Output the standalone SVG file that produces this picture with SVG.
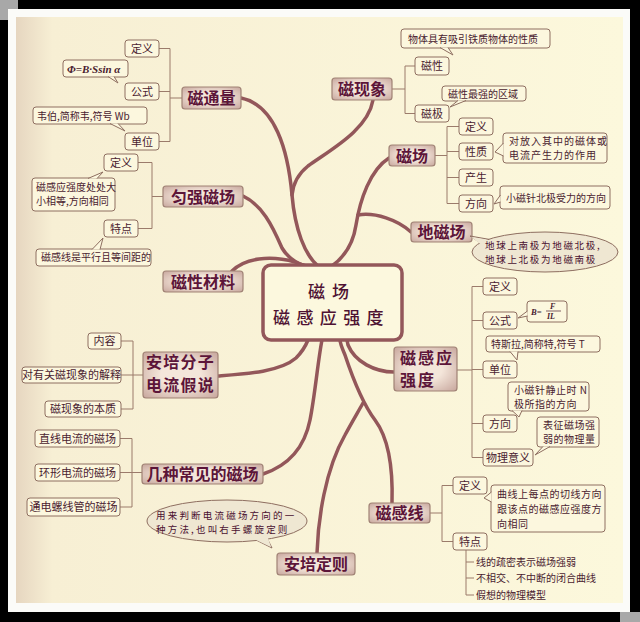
<svg xmlns="http://www.w3.org/2000/svg" width="640" height="622" viewBox="0 0 640 622">
<defs>
<linearGradient id="paper" x1="0" x2="1" y1="0" y2="0"><stop offset="0" stop-color="#e6d6c0"/><stop offset="0.06" stop-color="#f7efd4"/><stop offset="1" stop-color="#fcf8dc"/></linearGradient>
<radialGradient id="mn" cx="0.5" cy="0.5" r="0.75"><stop offset="0.35" stop-color="#f4e6da"/><stop offset="1" stop-color="#c29f96"/></radialGradient>
<style>
.m{font-family:"Noto Sans CJK SC",sans-serif;font-weight:bold;font-size:16px;fill:#5c1539;text-anchor:middle}
.mb{fill:url(#mn);stroke:#a08275;stroke-width:1.2}
.sb{fill:#fcf7de;stroke:#8e6e60;stroke-width:1}
.s{font-family:"Noto Sans CJK SC",sans-serif;font-size:11px;fill:#4a1c30;text-anchor:middle}
.c{font-family:"Noto Sans CJK SC",sans-serif;font-size:10px;fill:#4a1c30}
.br{fill:none;stroke:#9b7b6b;stroke-width:1}
.tr{fill:none;stroke:#93575a;stroke-width:3.5;stroke-linecap:round}
.tail{fill:#fcf7de;stroke:#8e6e60;stroke-width:1}
.el{fill:#efe7d2;stroke:#8e6e60;stroke-width:1}
.k{font-family:"Noto Sans CJK SC",sans-serif;font-size:9.5px;fill:#4a1030}
.f{font-family:"Liberation Serif",serif;font-style:italic;font-weight:bold;fill:#4a1c30}
.ct{font-family:"Noto Sans CJK SC",sans-serif;font-size:17px;font-weight:500;fill:#4e1232}
</style>
</defs>
<rect width="640" height="622" fill="#000"/>
<rect x="0" y="0" width="18" height="20" fill="#a8a8a8"/>
<rect x="620" y="612" width="20" height="10" fill="#a8a8a8"/>
<rect x="8" y="9" width="622" height="603" fill="#fbfbf8"/>
<rect x="16" y="17" width="607" height="586" fill="url(#paper)"/>

<g id="connectors">
<path class="tr" d="M241,98 C275,105 288,150 292,195 C295,230 305,255 318,266"/>
<path class="tr" d="M373,100 C368,130 330,150 308,166 C298,174 293,185 292,195"/>
<path class="tr" d="M243,196 C262,205 272,225 282,248 C288,258 296,263 305,266"/>
<path class="tr" d="M232,271 C245,258 270,255 295,262 C300,264 303,265 306,266"/>
<path class="tr" d="M389,158 C370,170 360,200 356,225 C353,245 343,258 332,266"/>
<path class="tr" d="M411,232 C398,220 375,212 358,215"/>
<path class="tr" d="M218,376 C245,374 280,372 296,358 C303,351 306,345 308,340"/>
<path class="tr" d="M263,474 C290,465 305,445 310,420 C315,395 318,360 322,340"/>
<path class="tr" d="M317,553 C318,520 325,470 345,435 C352,422 358,412 363,403"/>
<path class="tr" d="M392,503 C393,470 390,440 375,420 C360,400 350,370 345,355 C342,348 340,343 340,340"/>
<path class="tr" d="M394,372 C375,372 355,362 348,345 L347,340"/>
<path class="br" d="M159,48.5 H170 V141.5 H159 M159,91.5 H170 M170,98 H182"/>
<path class="br" d="M415,66 H405 V113.5 H415 M392,89 H405"/>
<path class="br" d="M459,126.5 H447 V203.5 H459 M447,151.5 H459 M447,177.5 H459 M435,155.5 H447"/>
<path class="br" d="M138,162.5 H152 V228.5 H138 M152,196.5 H163"/>
<path class="br" d="M121,341 H133 V409 H121 M121,375 H143"/>
<path class="br" d="M120,438.5 H132 V507 H120 M120,472.5 H142"/>
<path class="br" d="M483,286.5 H472 V457.5 H483 M472,320.5 H483 M472,369.5 H483 M472,423.5 H483 M457,370 H472"/>
<path class="br" d="M453,485.5 H442 V541.5 H453 M430,513 H442"/>
<path class="br" d="M466,550 V595 H474 M466,562 H474 M466,578 H474"/>
</g>

<g id="center">
<rect x="263" y="265" width="139" height="75" rx="8" fill="#fcf8de" stroke="#93575a" stroke-width="3.5"/>
<text class="ct" x="308" y="298" letter-spacing="7">磁场</text>
<text class="ct" x="273" y="324" letter-spacing="6.4">磁感应强度</text>
</g>

<g id="citongliang">
<rect class="mb" x="182" y="87" width="59" height="22" rx="3"/>
<text class="m" x="211.5" y="104">磁通量</text>
<rect class="sb" x="125" y="40" width="34" height="17" rx="3"/><text class="s" x="142" y="52.7">定义</text>
<rect class="sb" x="63" y="60" width="65" height="17" rx="3"/>
<path class="tail" d="M108,76.5 L118,83 L114,76.5"/>
<text class="f" x="67" y="72.5" font-size="11">Φ=B·Ssin α</text>
<rect class="sb" x="125" y="83" width="34" height="17" rx="3"/><text class="s" x="142" y="95.7">公式</text>
<rect class="sb" x="33" y="107" width="114" height="17" rx="3"/>
<path class="tail" d="M110,123.5 L125,131 L118,123.5"/>
<text class="c" x="37" y="119.5" font-size="10.5">韦伯,简称韦,符号 Wb</text>
<rect class="sb" x="125" y="133" width="34" height="17" rx="3"/><text class="s" x="142" y="145.7">单位</text>
</g>

<g id="cixianxiang">
<rect class="mb" x="332" y="78" width="60" height="22" rx="3"/>
<text class="m" x="362" y="95">磁现象</text>
<rect class="sb" x="401" y="29" width="149" height="19" rx="3"/>
<path class="tail" d="M440,47.5 L453,55 L448,47.5"/>
<text class="c" x="408" y="42.5" font-size="10.5">物体具有吸引铁质物体的性质</text>
<rect class="sb" x="415" y="57" width="34" height="18" rx="3"/><text class="s" x="432" y="70.2">磁性</text>
<rect class="sb" x="442" y="86" width="84" height="15" rx="3"/>
<path class="tail" d="M458,100.5 L450,107 L466,100.5"/>
<text class="c" x="448" y="97.5">磁性最强的区域</text>
<rect class="sb" x="415" y="105" width="34" height="17" rx="3"/><text class="s" x="432" y="117.7">磁极</text>
</g>

<g id="cichang">
<rect class="mb" x="389" y="145" width="46" height="21" rx="3"/>
<text class="m" x="412" y="161.5">磁场</text>
<rect class="sb" x="459" y="118" width="34" height="17" rx="3"/><text class="s" x="476" y="130.7">定义</text>
<rect class="sb" x="459" y="143" width="34" height="17" rx="3"/><text class="s" x="476" y="155.7">性质</text>
<rect class="sb" x="503" y="133" width="104" height="30" rx="3"/>
<path class="tail" d="M503.5,143 L495,152 L503.5,156"/>
<text class="c" x="509" y="145" font-size="9.5" letter-spacing="1">对放入其中的磁体或</text>
<text class="c" x="509" y="159" font-size="9.5" letter-spacing="1">电流产生力的作用</text>
<rect class="sb" x="459" y="169" width="34" height="17" rx="3"/><text class="s" x="476" y="181.7">产生</text>
<rect class="sb" x="459" y="195" width="34" height="17" rx="3"/><text class="s" x="476" y="207.7">方向</text>
<rect class="sb" x="500" y="186" width="110" height="23" rx="3"/>
<path class="tail" d="M500.5,195 L494,204 L500.5,202"/>
<text class="c" x="506" y="201.5">小磁针北极受力的方向</text>
</g>

<g id="dicichang">
<rect class="mb" x="411" y="222" width="61" height="20" rx="3"/>
<text class="m" x="441.5" y="238">地磁场</text>
<path class="el" d="M482,244 L470,236 L490,239.5"/>
<ellipse class="el" cx="545" cy="252" rx="73" ry="20"/>
<path d="M481,244.5 L471,237 L491,240.5 Z" fill="#efe7d2"/>
<text class="k" x="485" y="248.5" letter-spacing="1.7">地球上南极为地磁北极,</text>
<text class="k" x="485" y="262.5" letter-spacing="1.7">地球上北极为地磁南极</text>
</g>

<g id="yunqiang">
<rect class="mb" x="163" y="186" width="80" height="21" rx="3"/>
<text class="m" x="203" y="202.5">匀强磁场</text>
<rect class="sb" x="104" y="154" width="34" height="17" rx="3"/><text class="s" x="121" y="166.7">定义</text>
<rect class="sb" x="32" y="178" width="83" height="33" rx="3"/>
<path class="tail" d="M88,178.5 L103,172 L97,178.5"/>
<text class="c" x="36" y="191" font-size="9.5">磁感应强度处处大</text>
<text class="c" x="36" y="205" font-size="9.5">小相等,方向相同</text>
<rect class="sb" x="104" y="220" width="34" height="17" rx="3"/><text class="s" x="121" y="232.7">特点</text>
<rect class="sb" x="36" y="249" width="115" height="17" rx="3"/>
<path class="tail" d="M92,249.5 L103,238 L100,249.5"/>
<text class="c" x="41" y="261" font-size="9.8">磁感线是平行且等间距的</text>
</g>

<g id="cixingcailiao">
<rect class="mb" x="163" y="271" width="80" height="21" rx="3"/>
<text class="m" x="203" y="287.5">磁性材料</text>
</g>

<g id="anpeifenzi">
<rect class="mb" x="143" y="352" width="75" height="46" rx="3"/>
<text class="m" x="180.5" y="368" font-size="13.5" letter-spacing="1.2">安培分子</text>
<text class="m" x="180.5" y="390.5" font-size="13.5" letter-spacing="1.2">电流假说</text>
<rect class="sb" x="88" y="333" width="33" height="16" rx="3"/><text class="s" x="104.5" y="345.2">内容</text>
<rect class="sb" x="22" y="367" width="99" height="16" rx="3"/><text class="s" x="71.5" y="379" font-size="10">对有关磁现象的解释</text>
<rect class="sb" x="45" y="401" width="76" height="16" rx="3"/><text class="s" x="83" y="413" font-size="10">磁现象的本质</text>
</g>

<g id="jizhong">
<rect class="mb" x="142" y="464" width="121" height="20" rx="3"/>
<text class="m" x="202.5" y="480">几种常见的磁场</text>
<rect class="sb" x="35" y="430" width="85" height="17" rx="3"/><text class="s" x="77.5" y="442.5" font-size="10.5">直线电流的磁场</text>
<rect class="sb" x="35" y="464" width="85" height="17" rx="3"/><text class="s" x="77.5" y="476.5" font-size="10.5">环形电流的磁场</text>
<rect class="sb" x="27" y="498" width="93" height="18" rx="3"/><text class="s" x="73.5" y="511" font-size="10.5">通电螺线管的磁场</text>
</g>

<g id="anpeidingze">
<rect class="mb" x="277" y="553" width="78" height="22" rx="3"/>
<text class="m" x="316" y="570">安培定则</text>
<path class="el" d="M252,538 L272,548 L266,536"/>
<ellipse class="el" cx="227" cy="521" rx="80" ry="21"/>
<path d="M251,537.5 L271,547 L267,535 Z" fill="#efe7d2"/>
<text class="k" x="156" y="519" letter-spacing="2.2">用来判断电流磁场方向的一</text>
<text class="k" x="156" y="533" letter-spacing="2.2">种方法,也叫右手螺旋定则</text>
</g>

<g id="ciganyingqiangdu">
<rect class="mb" x="394" y="347" width="63" height="44" rx="3"/>
<text class="m" x="400" y="363.5" font-size="13.5" style="text-anchor:start" letter-spacing="2">磁感应</text>
<text class="m" x="400" y="386" font-size="13.5" style="text-anchor:start" letter-spacing="2">强度</text>
<rect class="sb" x="483" y="278" width="34" height="17" rx="3"/><text class="s" x="500" y="290.7">定义</text>
<rect class="sb" x="483" y="312" width="34" height="17" rx="3"/><text class="s" x="500" y="324.7">公式</text>
<rect class="sb" x="527" y="301" width="40" height="21" rx="3"/>
<path class="tail" d="M527.5,311 L518,318 L527.5,316"/>
<text class="f" x="531" y="315" font-size="8.5">B=</text>
<text class="f" x="550" y="309" font-size="8">F</text>
<line x1="546" y1="311" x2="561" y2="311" stroke="#4a1c30" stroke-width="0.7"/>
<text class="f" x="547" y="319" font-size="8">IL</text>
<rect class="sb" x="486" y="336" width="114" height="16" rx="3"/>
<path class="tail" d="M510,351.5 L517,360 L518,351.5"/>
<text class="c" x="491" y="348">特斯拉,简称特,符号 T</text>
<rect class="sb" x="483" y="361" width="34" height="17" rx="3"/><text class="s" x="500" y="373.7">单位</text>
<rect class="sb" x="508" y="382" width="81" height="29" rx="3"/>
<path class="tail" d="M512,410.5 L519,417 L522,410.5"/>
<text class="c" x="514" y="393.5" font-size="9.5" letter-spacing="0.5">小磁针静止时 N</text>
<text class="c" x="514" y="407.5" font-size="9.5" letter-spacing="0.5">极所指的方向</text>
<rect class="sb" x="483" y="415" width="34" height="17" rx="3"/><text class="s" x="500" y="427.7">方向</text>
<rect class="sb" x="537" y="417" width="62" height="30" rx="3"/>
<path class="tail" d="M543,446.5 L535,455 L550,446.5"/>
<text class="c" x="543" y="428.5" font-size="9.5" letter-spacing="0.5">表征磁场强</text>
<text class="c" x="543" y="442.5" font-size="9.5" letter-spacing="0.5">弱的物理量</text>
<rect class="sb" x="483" y="449" width="50" height="17" rx="3"/><text class="s" x="508" y="461.7">物理意义</text>
</g>

<g id="ciganxian">
<rect class="mb" x="369" y="503" width="61" height="20" rx="3"/>
<text class="m" x="399.5" y="519">磁感线</text>
<rect class="sb" x="453" y="477" width="34" height="17" rx="3"/><text class="s" x="470" y="489.7">定义</text>
<rect class="sb" x="491" y="485" width="114" height="47" rx="3"/>
<path class="tail" d="M491.5,492 L484,498 L491.5,502"/>
<text class="c" x="497" y="497.5" letter-spacing="0.5">曲线上每点的切线方向</text>
<text class="c" x="497" y="512.5" letter-spacing="0.5">跟该点的磁感应强度方</text>
<text class="c" x="497" y="527.5" letter-spacing="0.5">向相同</text>
<rect class="sb" x="453" y="533" width="34" height="17" rx="3"/><text class="s" x="470" y="545.7">特点</text>
<text class="c" x="476" y="566">线的疏密表示磁场强弱</text>
<text class="c" x="476" y="582">不相交、不中断的闭合曲线</text>
<text class="c" x="476" y="599">假想的物理模型</text>
</g>
</svg>
